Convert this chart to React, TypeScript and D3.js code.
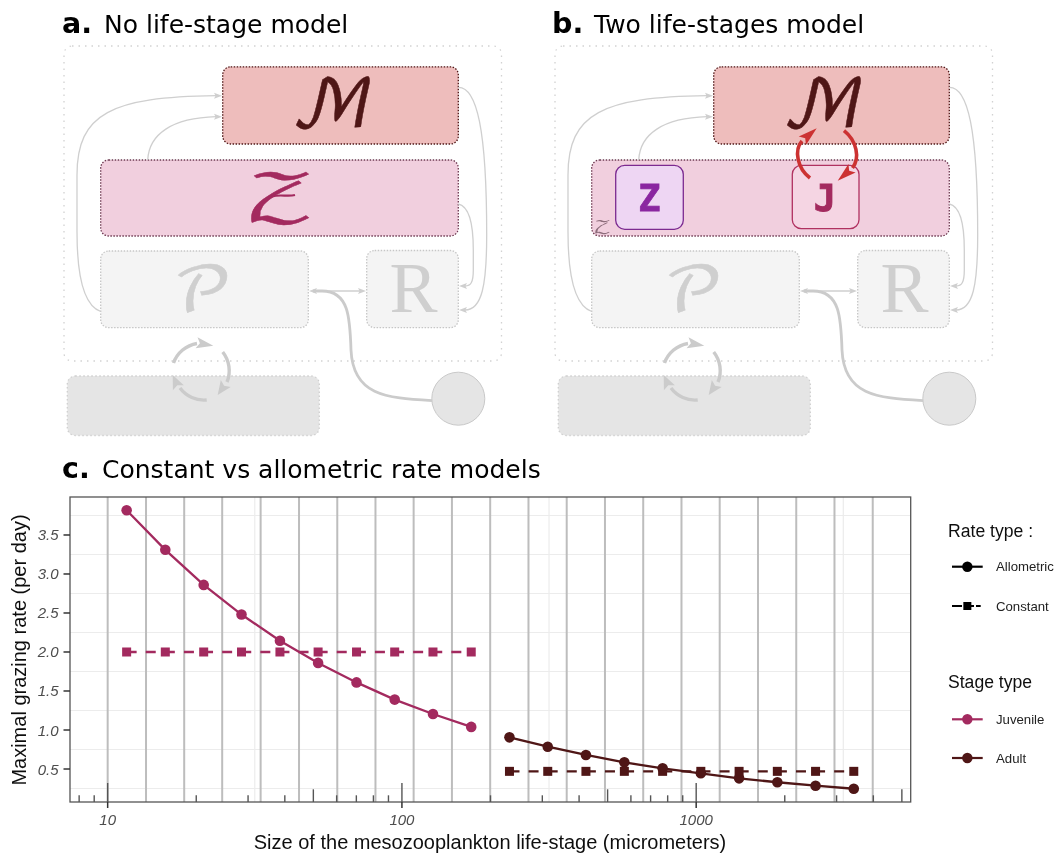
import React from "react";
import * as d3 from "d3";

const WIDTH = 1059;
const HEIGHT = 854;

// ---------- data ----------
const juvenileSizes = [11.6, 15.7, 21.2, 28.5, 38.5, 51.9, 70.1, 94.5, 127.5, 172];
const adultSizes = [232, 313, 422, 570, 769, 1037, 1399, 1887, 2545, 3432];
const juvenileAllometric = [3.817, 3.31, 2.86, 2.48, 2.145, 1.86, 1.61, 1.39, 1.205, 1.04];
const adultAllometric = [0.906, 0.786, 0.68, 0.586, 0.509, 0.445, 0.38, 0.33, 0.286, 0.247];
const juvenileConstant = [2, 2, 2, 2, 2, 2, 2, 2, 2, 2];
const adultConstant = [0.47, 0.47, 0.47, 0.47, 0.47, 0.47, 0.47, 0.47, 0.47, 0.47];
const classBoundaries = [10, 13.5, 18.2, 24.5, 33.1, 44.7, 60.3, 81.3, 109.6, 147.9, 199.5, 269.2, 363.1, 489.8, 660.7, 891.3, 1202, 1622, 2188, 2951, 3981];
const xTickValues = [10, 100, 1000];
const yTickValues = [0.5, 1, 1.5, 2, 2.5, 3, 3.5];
const yMinorValues = [0.25, 0.75, 1.25, 1.75, 2.25, 2.75, 3.25, 3.75];
const xMinorValues = [31.62, 316.2, 3162];
const rugSmall = [8, 9, 20, 30, 40, 60, 70, 80, 90, 200, 300, 400, 600, 700, 800, 900, 2000, 3000, 4000];
const rugMedium = [50, 500, 5000];
const rugLarge = [10, 100, 1000];

const JUV = "#a32a5e";
const ADU = "#4f1616";
const SANS = "'Liberation Sans', Arial, sans-serif";
const DEJA = "'DejaVu Sans', sans-serif";
const MONO = "'DejaVu Sans Mono', monospace";
const MATH = "'DejaVu Math TeX Gyre', serif";
const GRAY = "#cbcbcb";

const x = d3.scaleLog().domain([10 ** 0.872, 10 ** 3.729]).range([70, 910.7]);
const y = d3.scaleLinear().domain([0.077, 3.987]).range([802, 497]);
const lineGen = d3.line<[number, number]>().x((d) => x(d[0])).y((d) => y(d[1]));

function zip(a: number[], b: number[]): [number, number][] {
  return a.map((v, i) => [v, b[i]]);
}

// tip of the head is at (x0, y0)
function Arrow({ x0, y0, angle, size = 8, h = 3, fill = "#cfcfcf" }: any) {
  return (
    <path
      d={`M0,0 L${-size},${-h} L${-size * 0.8},0 L${-size},${h} Z`}
      transform={`translate(${x0},${y0}) rotate(${angle})`}
      fill={fill}
    />
  );
}

function Curve({ d, w = 1.3, c = "#cfcfcf" }: any) {
  return <path d={d} fill="none" stroke={c} strokeWidth={w} />;
}

function Box({ x0, y0, x1, y1, fill, stroke, dash = "1.5 1.5", w = 1.3, r = 8 }: any) {
  return (
    <rect x={x0} y={y0} width={x1 - x0} height={y1 - y0} rx={r} fill={fill} stroke={stroke} strokeWidth={w} strokeDasharray={dash} />
  );
}

function Glyph({ t, cx, base, size, sx = 1, fill, sw = 0 }: any) {
  return (
    <text
      transform={`translate(${cx},${base}) scale(${sx},1)`}
      textAnchor="middle"
      fontFamily={MATH}
      fontSize={size}
      fill={fill}
      stroke={fill}
      strokeWidth={sw}
    >
      {t}
    </text>
  );
}

function Diagram({ dx, staged }: { dx: number; staged: boolean }) {
  return (
    <g transform={`translate(${dx},0)`}>
      <Box x0={64} y0={46} x1={501.5} y1={361} fill="#fff" stroke="#d2d2d2" dash="1.5 5" w={1.3} />
      <Box x0={67.3} y0={376} x1={319.3} y1={435.5} fill="#e5e5e5" stroke="#cfcfcf" dash="1.5 2.5" />
      <circle cx={458.3} cy={398.7} r={26.5} fill="#e5e5e5" stroke="#c9c9c9" strokeWidth={1} />
      <Box x0={222.7} y0={66.8} x1={458.3} y1={144} fill="#eebdbc" stroke="#4f1616" />
      <Box x0={100.7} y0={160} x1={458.3} y1={236} fill="#f1cfde" stroke="#6e3a52" />
      <Box x0={100.7} y0={251} x1={308.3} y1={327.7} fill="#f4f4f4" stroke="#c6c6c6" />
      <Box x0={366.7} y0={250.5} x1={458.3} y1={327.7} fill="#f4f4f4" stroke="#c6c6c6" />

      <Curve d="M100.7,311.5 C85,306 77,280 77,232 L77,175 C77,113 112,97 216,95.7" />
      <Arrow x0={222} y0={95.7} angle={0} />
      <Curve d="M147.7,160 C149,134 172,118 216,116.7" />
      <Arrow x0={222} y0={116.7} angle={0} />
      <Curve d="M458.3,87.3 C477,87 486.7,130 486.7,235 C486.7,285 482,310 465,310" />
      <Arrow x0={459} y0={310} angle={180} />
      <Curve d="M458.3,204 C468,206 473.3,220 473.3,250 L473.3,270 C473.3,282 471,286 465,286" />
      <Arrow x0={459} y0={286} angle={180} />
      <Curve d="M314,291 L360,291" />
      <Arrow x0={366} y0={291} angle={0} />
      <Arrow x0={309} y0={291} angle={180} />
      <Curve d="M432,400.7 C385,398 353,395 351,350 C350,318 349,291 322,291 L313,291" w={2.8} c={GRAY} />

      <Curve d="M173.5,363 A30,30 0 0 1 197,343.5" w={3.4} c={GRAY} />
      <Arrow x0={213.3} y0={345.7} angle={10} size={17} h={5.5} fill={GRAY} />
      <Curve d="M222.7,352 A30,30 0 0 1 227,382" w={3.4} c={GRAY} />
      <Arrow x0={217.7} y0={395} angle={125} size={14} h={6} fill={GRAY} />
      <Curve d="M206.7,400 A30,30 0 0 1 180,388" w={3.4} c={GRAY} />
      <Arrow x0={172.7} y0={375} angle={-114} size={14} h={6} fill={GRAY} />

      <Glyph t="ℳ" cx={333} base={126.5} size={66} fill={ADU} sw={0.5} />
      <Glyph t="𝒫" cx={202.5} base={311} size={62} sx={1.15} fill="#cfcfcf" sw={0.5} />
      <text x={413.5} y={312} textAnchor="middle" fontFamily="'Liberation Serif', serif" fontSize={72} fill="#cfcfcf">R</text>

      {!staged && (
        <g>
          <Glyph t="𝒵" cx={280} base={219.5} size={64} sx={1.4} fill={JUV} sw={0.4} />
          <path d="M272,196.5 C280,194 288,197 295,195" fill="none" stroke={JUV} strokeWidth={2.2} />
        </g>
      )}
      {staged && (
        <g>
          <Glyph t="𝒵" cx={111.5} base={233} size={16} sx={1.4} fill="#8d6d7b" />
          <rect x={124.7} y={165.3} width={67.6} height={64} rx={9} fill="#eed6f3" stroke="#7b2a90" strokeWidth={1.3} />
          <text x={158.3} y={210.7} textAnchor="middle" fontFamily={MONO} fontWeight={700} fontSize={37} fill="#8a27a0" stroke="#8a27a0" strokeWidth={0.8}>Z</text>
          <rect x={301.3} y={165.3} width={66.7} height={63.4} rx={9} fill="#f5d5e3" stroke="#b03060" strokeWidth={1.3} />
          <text x={334} y={210.7} textAnchor="middle" fontFamily={MONO} fontWeight={700} fontSize={37} fill={JUV} stroke={JUV} strokeWidth={0.8}>J</text>
          <Curve d="M319,178 C306,168 303,150 311,141" w={3.6} c="#cc3333" />
          <Arrow x0={325.7} y0={128.3} angle={-41} size={19} h={5.5} fill="#cc3333" />
          <Curve d="M353,130.7 C366,141 369,158 361.5,168" w={3.6} c="#cc3333" />
          <Arrow x0={346.7} y0={180.7} angle={139} size={19} h={5.5} fill="#cc3333" />
        </g>
      )}
    </g>
  );
}

function Legend() {
  const keyX0 = 952;
  const keyX1 = 982.7;
  const keyMid = (keyX0 + keyX1) / 2;
  const labelX = 996;
  const lab = (yy: number, t: string) => (
    <text x={labelX} y={yy + 4.5} fontFamily={SANS} fontSize={13.2} fill="#222">{t}</text>
  );
  return (
    <g>
      <text x={948} y={536.5} fontFamily={SANS} fontSize={17.6} fill="#111">Rate type :</text>
      <line x1={keyX0} x2={keyX1} y1={566.7} y2={566.7} stroke="#000" strokeWidth={2.2} />
      <circle cx={keyMid} cy={566.7} r={5.2} fill="#000" />
      {lab(566.7, "Allometric")}
      <line x1={keyX0} x2={980.7} y1={606} y2={606} stroke="#000" strokeWidth={2.2} strokeDasharray="10 2" />
      <rect x={keyMid - 4} y={602} width={8} height={8} fill="#000" />
      {lab(606, "Constant")}
      <text x={948} y={688} fontFamily={SANS} fontSize={17.6} fill="#111">Stage type</text>
      <line x1={keyX0} x2={keyX1} y1={719.3} y2={719.3} stroke={JUV} strokeWidth={2.2} />
      <circle cx={keyMid} cy={719.3} r={5.2} fill={JUV} />
      {lab(719.3, "Juvenile")}
      <line x1={keyX0} x2={keyX1} y1={758} y2={758} stroke={ADU} strokeWidth={2.2} />
      <circle cx={keyMid} cy={758} r={5.2} fill={ADU} />
      {lab(758, "Adult")}
    </g>
  );
}

function Series({ sizes, allo, cons, color }: { sizes: number[]; allo: number[]; cons: number[]; color: string }) {
  return (
    <g>
      <path d={lineGen(zip(sizes, allo)) ?? ""} fill="none" stroke={color} strokeWidth={2.3} />
      <path d={lineGen(zip(sizes, cons)) ?? ""} fill="none" stroke={color} strokeWidth={2.3} strokeDasharray="10 9.1" />
      {sizes.map((s, i) => (
        <circle key={"c" + i} cx={x(s)} cy={y(allo[i])} r={5.3} fill={color} />
      ))}
      {sizes.map((s, i) => (
        <rect key={"r" + i} x={x(s) - 4.5} y={y(cons[i]) - 4.5} width={9} height={9} fill={color} />
      ))}
    </g>
  );
}

export default function App() {
  const [pl, pr] = x.range();
  const [pb, pt] = y.range();
  return (
    <svg width={WIDTH} height={HEIGHT} viewBox={`0 0 ${WIDTH} ${HEIGHT}`} style={{ position: "absolute", left: 0, top: 0, background: "#fff" }}>
      <defs>
        <filter id="soft" filterUnits="userSpaceOnUse" x={0} y={0} width={WIDTH} height={HEIGHT}>
          <feGaussianBlur stdDeviation={0.35} />
        </filter>
      </defs>
      <g filter="url(#soft)">
        <rect x={0} y={0} width={WIDTH} height={HEIGHT} fill="#fff" />
        <text x={62} y={33} fontFamily={DEJA} fontWeight={700} fontSize={28.5}>a.</text>
        <text x={104} y={33} fontFamily={DEJA} fontSize={25}>No life-stage model</text>
        <text x={552} y={33} fontFamily={DEJA} fontWeight={700} fontSize={28.5}>b.</text>
        <text x={594} y={33} fontFamily={DEJA} fontSize={25}>Two life-stages model</text>
        <text x={62} y={478} fontFamily={DEJA} fontWeight={700} fontSize={28.5}>c.</text>
        <text x={102} y={478} fontFamily={DEJA} fontSize={25}>Constant vs allometric rate models</text>

        <Diagram dx={0} staged={false} />
        <Diagram dx={491} staged={true} />

        {/* panel c */}
        <rect x={pl} y={pt} width={pr - pl} height={pb - pt} fill="#fff" />
        {yMinorValues.map((v) => (
          <line key={v} x1={pl} x2={pr} y1={y(v)} y2={y(v)} stroke="#ececec" strokeWidth={1.2} />
        ))}
        {xMinorValues.map((v) => (
          <line key={v} x1={x(v)} x2={x(v)} y1={pt} y2={pb} stroke="#ececec" strokeWidth={1.2} />
        ))}
        {classBoundaries.map((v) => (
          <line key={v} x1={x(v)} x2={x(v)} y1={pt} y2={pb} stroke="#bdbdbd" strokeWidth={2} />
        ))}
        {rugSmall.map((v) => (
          <line key={v} x1={x(v)} x2={x(v)} y1={pb} y2={pb - 6.7} stroke="#555" strokeWidth={1.4} />
        ))}
        {rugMedium.map((v) => (
          <line key={v} x1={x(v)} x2={x(v)} y1={pb} y2={pb - 12.7} stroke="#555" strokeWidth={1.4} />
        ))}
        {rugLarge.map((v) => (
          <line key={v} x1={x(v)} x2={x(v)} y1={pb} y2={pb - 19} stroke="#555" strokeWidth={1.4} />
        ))}
        <Series sizes={juvenileSizes} allo={juvenileAllometric} cons={juvenileConstant} color={JUV} />
        <Series sizes={adultSizes} allo={adultAllometric} cons={adultConstant} color={ADU} />
        <rect x={pl} y={pt} width={pr - pl} height={pb - pt} fill="none" stroke="#555" strokeWidth={1.3} />
        {yTickValues.map((v) => (
          <g key={v}>
            <line x1={pl - 6.5} x2={pl} y1={y(v)} y2={y(v)} stroke="#333" strokeWidth={1.5} />
            <text x={58.5} y={y(v) + 5.5} textAnchor="end" fontFamily={SANS} fontStyle="italic" fontSize={15} fill="#4d4d4d">{d3.format(".1f")(v)}</text>
          </g>
        ))}
        {xTickValues.map((v) => (
          <g key={v}>
            <line x1={x(v)} x2={x(v)} y1={pb} y2={pb + 6} stroke="#333" strokeWidth={1.5} />
            <text x={x(v)} y={825} textAnchor="middle" fontFamily={SANS} fontStyle="italic" fontSize={15} fill="#4d4d4d">{v}</text>
          </g>
        ))}
        <text x={490} y={849} textAnchor="middle" fontFamily={SANS} fontSize={20} fill="#111">Size of the mesozooplankton life-stage (micrometers)</text>
        <text transform="translate(26,650) rotate(-90)" textAnchor="middle" fontFamily={SANS} fontSize={20} fill="#111">Maximal grazing rate (per day)</text>
        <Legend />
      </g>
    </svg>
  );
}
